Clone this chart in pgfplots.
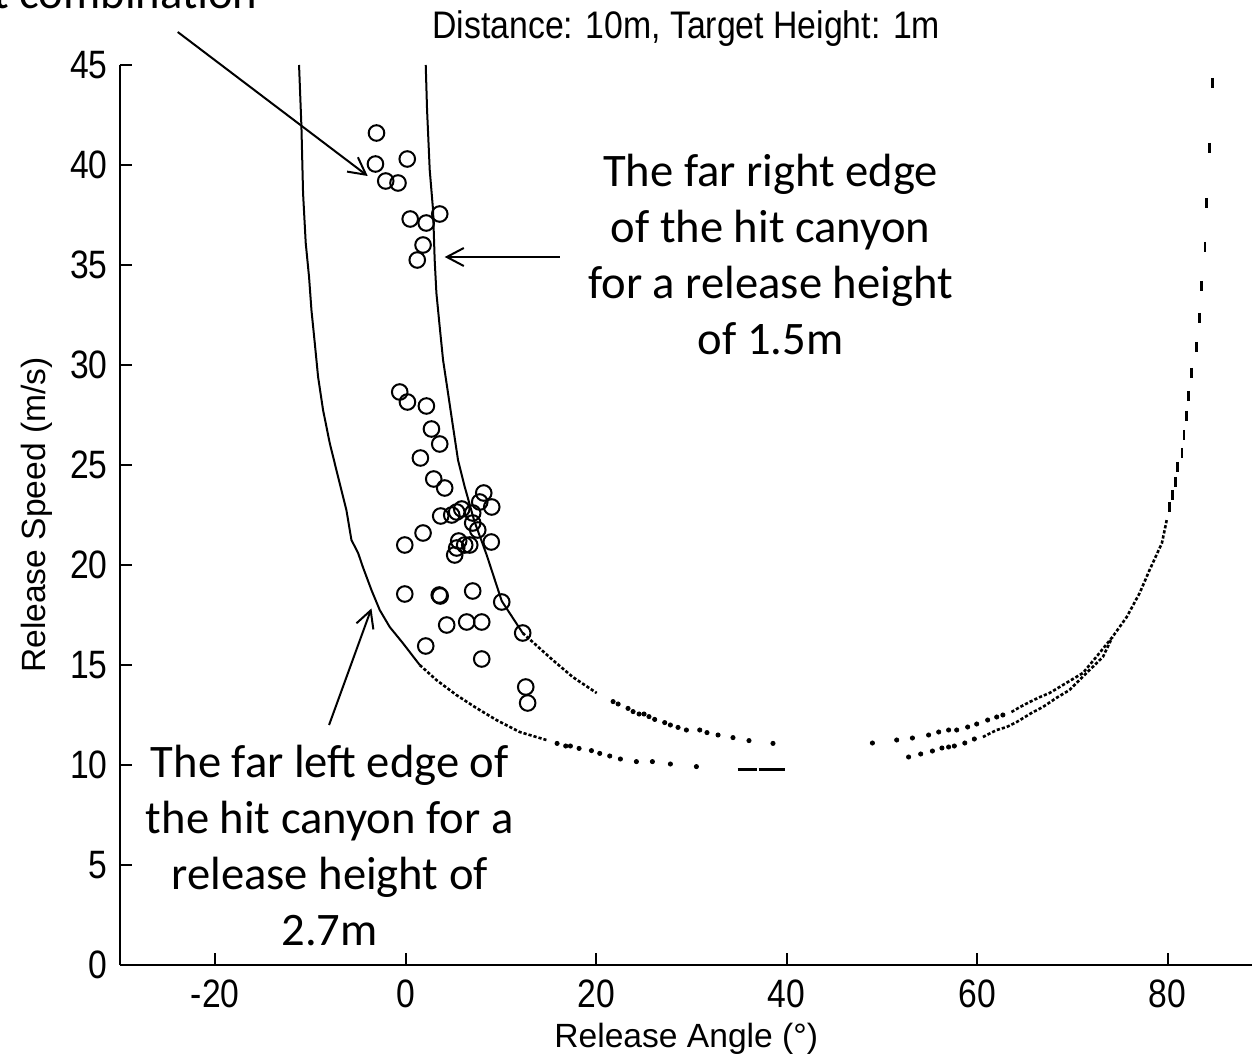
\documentclass[border=0pt]{standalone}
\usepackage{fontspec}
\usepackage{pgfplots}
\pgfplotsset{compat=1.18}
\usetikzlibrary{arrows.meta}
\newfontfamily\tickfont[FakeStretch=0.85]{Liberation Sans}
\newfontfamily\titlefont[FakeStretch=0.88]{Liberation Sans}
\newfontfamily\labelfont{Liberation Sans}
\newfontfamily\notefont{Carlito}
\newcommand{\ticktext}{\tickfont\fontsize{19.8}{23}\selectfont}
\newcommand{\titletext}{\titlefont\fontsize{19.2}{23}\selectfont}
\newcommand{\labeltext}{\labelfont\fontsize{16.8}{20}\selectfont}
\newcommand{\notetext}{\notefont\fontsize{23.3}{28}\selectfont}

\begin{document}
\begin{tikzpicture}
\begin{axis}[
  scale only axis,
  width=566.7pt, height=450pt,
  xmin=-30, xmax=89, ymin=0, ymax=45,
  axis x line*=bottom, axis y line*=left,
  axis line style={-, line width=1pt, black},
  every outer x axis line/.append style={-},
  every outer y axis line/.append style={-},
  tick align=inside,
  major tick length=6pt,
  tick style={line width=1pt, black},
  xtick={-20,0,20,40,60,80},
  xticklabels={-20,0,20,40,60,80},
  ytick={0,5,10,15,20,25,30,35,40,45},
  yticklabels={0,5,10,15,20,25,30,35,40,45},
  tick label style={font=\ticktext, text=black},
  xticklabel style={anchor=north, inner sep=0pt, yshift=-7pt},
  yticklabel style={anchor=east, inner sep=0pt, xshift=-6pt},
  clip=false,
]

% far left edge of the hit canyon, release height 2.7 m
\addplot[black, line width=1pt] coordinates {
  (-11.2,45) (-10.95,41.9) (-10.78,38.6) (-10.5,36.1) (-10.15,34.4)
  (-9.9,32.75) (-9.55,31.1) (-9.2,29.4) (-8.68,27.75) (-7.98,26.1)
  (-7.1,24.4) (-6.23,22.75) (-5.7,21.25) (-5.0,20.6) (-4.5,19.9)
  (-3.6,18.75) (-2.73,17.75) (-1.68,16.9) (-0.31,16.1) (1.47,15.0)};
\addplot[black, line width=1.3pt, dash pattern=on 1.6pt off 1pt] coordinates {
  (1.47,15.0) (3.22,14.25) (5.32,13.5) (7.42,12.85) (9.52,12.25)
  (11.97,11.65) (14.77,11.25)};
\addplot[only marks, mark=*, mark size=1.05pt, black] coordinates {
  (15.89,11.08) (16.8,10.95) (17.29,10.95) (18.2,10.83) (19.5,10.72)
  (20.37,10.58) (21.42,10.45) (22.54,10.3) (24.22,10.17) (25.9,10.17)
  (27.79,10.05) (30.52,9.92)};
\addplot[black, line width=1.5pt] coordinates {(34.86,9.8) (36.85,9.8)};
\addplot[black, line width=1.5pt] coordinates {(37.06,9.8) (39.79,9.8)};

% far right edge of the hit canyon, release height 1.5 m
\addplot[black, line width=1pt] coordinates {
  (2.1,45) (2.24,42.75) (2.52,39.75) (2.87,37.75) (3.04,35.25)
  (3.22,33.6) (3.57,31.9) (3.92,30.25) (4.44,28.6) (4.97,26.9)
  (5.49,25.25) (6.2,23.9) (7.2,22.2) (8.5,20.5) (10.08,18.2)
  (12.28,16.6)};
\addplot[black, line width=1.3pt, dash pattern=on 1.6pt off 1pt] coordinates {
  (12.28,16.6) (15.43,15.25) (17.53,14.4) (20.05,13.6)};
\addplot[only marks, mark=*, mark size=1.05pt, black] coordinates {
  (21.77,13.17) (22.3,13.05) (23.34,12.83) (23.87,12.67) (24.5,12.55)
  (25.02,12.55) (25.54,12.42) (26.14,12.28) (27.19,12.12) (27.79,12.0)
  (28.59,11.88) (29.47,11.75) (30.87,11.75) (31.63,11.62) (32.79,11.5)
  (34.36,11.37) (36.04,11.22) (38.56,11.08)};

% high-angle edges
\addplot[only marks, mark=*, mark size=1.05pt, black] coordinates {
  (49.0,11.1) (51.55,11.25) (53.2,11.35) (54.9,11.5) (55.96,11.65)
  (57.0,11.75) (57.85,11.75) (59.0,11.9) (59.95,12.05) (61.1,12.25)
  (62.05,12.4) (62.7,12.5)};
\addplot[black, line width=1.3pt, dash pattern=on 1.6pt off 1pt] coordinates {
  (63.6,12.65) (64.5,12.9) (65.5,13.15) (66.6,13.4) (67.6,13.6)
  (69.0,14.0) (71.1,14.6) (72.5,15.4) (74.2,16.4) (75.7,17.4)
  (77.06,18.6) (78.1,19.75) (79.4,21.1) (79.9,22.25)};
\addplot[only marks, mark=|, mark size=2.6pt, mark options={line width=1.3pt}, black] coordinates {
  (80.2,22.9) (80.5,23.5) (80.8,24.15) (81.05,24.9) (81.5,25.6)
  (81.7,26.5) (82.0,27.45) (82.2,28.45) (82.5,29.6) (83.05,30.9)
  (83.36,32.35) (83.57,33.95) (83.9,35.9) (84.1,38.1) (84.4,40.85)
  (84.7,44.1)};
\addplot[only marks, mark=*, mark size=1.05pt, black] coordinates {
  (52.8,10.4) (54.07,10.55) (55.3,10.7) (56.3,10.85) (57.0,10.9)
  (57.6,10.95) (58.7,11.1) (59.7,11.3)};
\addplot[black, line width=1.3pt, dash pattern=on 1.6pt off 1pt] coordinates {
  (60.6,11.4) (62.05,11.75) (63.1,11.9) (64.15,12.15) (65.7,12.6)
  (66.9,12.9) (68.3,13.35) (69.7,13.75) (71.8,14.75) (73.2,15.4)
  (74.2,16.4)};

% measured releases
\addplot[only marks, mark=o, mark size=3.9pt, mark options={line width=1pt}, black] coordinates {
  (-3.07,41.6) (-3.18,40.05) (0.16,40.3) (-2.1,39.2) (-0.81,39.1)
  (0.47,37.3) (2.15,37.1) (3.57,37.55) (1.82,36.0) (1.21,35.25)
  (-0.63,28.65) (0.18,28.15) (2.17,27.95) (2.7,26.8) (3.57,26.05)
  (1.54,25.35) (2.94,24.3) (4.09,23.85) (8.19,23.6) (7.77,23.15)
  (9.03,22.9) (3.67,22.45) (4.83,22.5) (5.35,22.65) (5.88,22.8)
  (7.03,22.6) (7.03,22.1) (7.56,21.75) (8.98,21.15) (5.56,21.2)
  (5.35,20.85) (5.14,20.5) (6.19,21.0) (6.72,21.0) (1.82,21.6)
  (-0.1,21.0) (-0.1,18.55) (3.52,18.5) (3.62,18.45) (7.03,18.7)
  (10.08,18.15) (4.3,17.0) (6.4,17.15) (7.98,17.15) (12.28,16.6)
  (2.1,15.95) (7.98,15.3) (12.6,13.9) (12.8,13.1)};

% title and axis labels
\node[anchor=base, font=\titletext, text=black] at (axis cs:29.45,46.3)
  {Distance: 10m, Target Height: 1m};
\node[anchor=base, font=\labeltext, text=black] at (axis cs:29.45,-4.1)
  {Release Angle (°)};
\node[anchor=base, rotate=90, font=\labeltext, text=black] at (axis cs:-37.8,22.5)
  {Release Speed (m/s)};

% annotations
\node[anchor=base east, font=\notetext, inner sep=0pt] at (axis cs:-15.54,47.8)
  {Best combination};
\draw[line width=1pt, -{Straight Barb[length=8.5pt,width=9pt]}]
  (axis cs:-23.94,46.65) -- (axis cs:-3.99,39.45);

\node[anchor=base, font=\notetext, inner sep=0pt] at (axis cs:38.3,38.9) {The far right edge};
\node[anchor=base, font=\notetext, inner sep=0pt] at (axis cs:38.3,36.1) {of the hit canyon};
\node[anchor=base, font=\notetext, inner sep=0pt] at (axis cs:38.3,33.3) {for a release height};
\node[anchor=base, font=\notetext, inner sep=0pt] at (axis cs:38.3,30.5) {of 1.5m};
\draw[line width=1pt, -{Straight Barb[length=8.5pt,width=9pt]}]
  (axis cs:16.17,35.4) -- (axis cs:4.09,35.4);

\node[anchor=base, font=\notetext, inner sep=0pt] at (axis cs:-7.98,9.4) {The far left edge of};
\node[anchor=base, font=\notetext, inner sep=0pt] at (axis cs:-7.98,6.6) {the hit canyon for a};
\node[anchor=base, font=\notetext, inner sep=0pt] at (axis cs:-7.98,3.8) {release height of};
\node[anchor=base, font=\notetext, inner sep=0pt] at (axis cs:-7.98,1.0) {2.7m};
\draw[line width=1pt, -{Straight Barb[length=8.5pt,width=9pt]}]
  (axis cs:-8.05,12.0) -- (axis cs:-3.6,17.83);
\end{axis}
\pgfresetboundingbox
\path ([shift={(-60pt,-48pt)}]current axis.south west)
  rectangle ([shift={(566pt,482.5pt)}]current axis.south west);
\end{tikzpicture}
\end{document}
